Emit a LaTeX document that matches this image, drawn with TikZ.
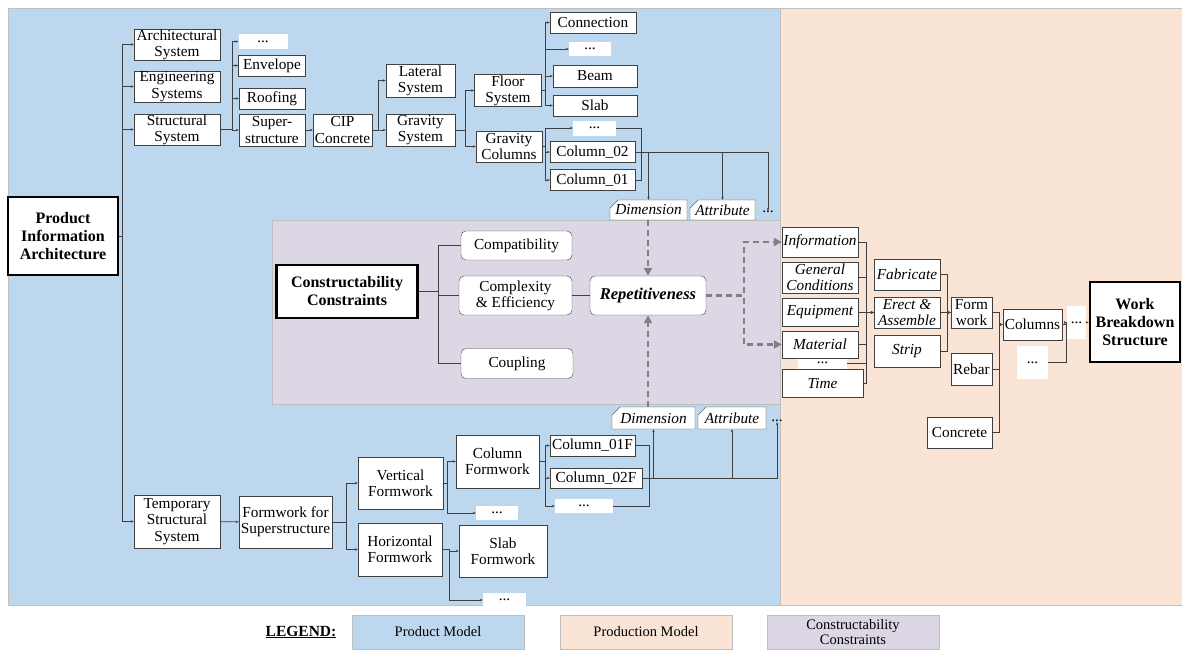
\documentclass[tikz,border=0pt]{standalone}
\usepackage{fontspec}
\setmainfont{Liberation Serif}
\usepackage{tikz}
\usetikzlibrary{arrows.meta,positioning,shapes.misc}
\definecolor{prodbg}{HTML}{BDD7EE}
\definecolor{planbg}{HTML}{FAE4D6}
\definecolor{consbg}{HTML}{DDD6E4}
\definecolor{frame}{HTML}{BFBFBF}
\definecolor{ink}{HTML}{404040}
\definecolor{dashgrey}{HTML}{808080}

\begin{document}
\begin{tikzpicture}[x=1pt,y=-1pt,
  font=\fontsize{15.3}{16.3}\selectfont,
  box/.style={draw=ink,fill=white,inner sep=0pt,align=center},
  dots/.style={fill=white,inner sep=0pt},
  heavy/.style={box,draw=black,line width=2.6pt,font=\fontsize{16}{18}\selectfont\bfseries},
  soft/.style={box,rounded corners=5pt},
  tag/.style={box,chamfered rectangle,chamfered rectangle corners=north west,
              chamfered rectangle xsep=5pt,font=\fontsize{15.3}{16.3}\selectfont\itshape},
  it/.style={font=\fontsize{15.3}{16.3}\selectfont\itshape},
  conn/.style={draw=ink,line width=0.9pt,-{Stealth[length=3pt,width=2.4pt]}},
  link/.style={draw=ink,line width=0.9pt},
  flow/.style={draw=dashgrey,line width=2.2pt,dash pattern=on 6pt off 4pt,
               -{Triangle[length=8pt,width=8pt]}},
  legbox/.style={draw=frame,inner sep=0pt,align=center,minimum width=172,minimum height=34,
                 font=\fontsize{14.5}{15}\selectfont}
]
\useasboundingbox (0,0) rectangle (1182,649);
% backgrounds
\fill[white] (0,0) rectangle (1182,649);
\filldraw[fill=prodbg,draw=frame] (8,8) rectangle (780,605);
\filldraw[fill=planbg,draw=frame] (780,8) rectangle (1182,605);
\filldraw[fill=consbg,draw=frame] (272,220) rectangle (780,404);

% product model
\node[heavy,minimum width=110,minimum height=78] (pia) at (63,236) {Product\\Information\\Architecture};
\node[box,minimum width=86,minimum height=31] (arch) at (177,44.5) {Architectural\\System};
\node[box,minimum width=86,minimum height=31] (eng) at (177,86.5) {Engineering\\Systems};
\node[box,minimum width=86,minimum height=31] (struc) at (177,129.5) {Structural\\System};
\node[box,minimum width=86,minimum height=53] (temp) at (177,521.5) {Temporary\\Structural\\System};

\node[dots,minimum width=49,minimum height=15] (d1) at (263,41.5) {...};
\node[box,minimum width=67,minimum height=21] (env) at (272,65.5) {Envelope};
\node[box,minimum width=66,minimum height=21] (roof) at (272,98.5) {Roofing};
\node[box,minimum width=66,minimum height=32] (sup) at (272,130) {Super-\\structure};
\node[box,minimum width=59,minimum height=32] (cip) at (342.5,130) {CIP\\Concrete};
\node[box,minimum width=69,minimum height=33] (lat) at (420.5,80.5) {Lateral\\System};
\node[box,minimum width=69,minimum height=32] (grav) at (420.5,130) {Gravity\\System};
\node[box,minimum width=67,minimum height=32] (floor) at (508,90.5) {Floor\\System};
\node[box,minimum width=66,minimum height=31] (gcol) at (509,146.5) {Gravity\\Columns};
\node[box,minimum width=86,minimum height=21] (cnx) at (593,22.5) {Connection};
\node[dots,minimum width=42,minimum height=14] (d2) at (590,49) {...};
\node[box,minimum width=84,minimum height=22] (beam) at (595,76) {Beam};
\node[box,minimum width=84,minimum height=21] (slab) at (595,105.5) {Slab};
\node[dots,minimum width=43,minimum height=15] (d3) at (594.5,128) {...};
\node[box,minimum width=85,minimum height=21] (col2) at (592.5,152) {Column\_02};
\node[box,minimum width=85,minimum height=21] (col1) at (592.5,180) {Column\_01};
\node[tag,minimum width=77,minimum height=20] (dimA) at (648.5,210) {Dimension};
\node[tag,minimum width=65,minimum height=20] (attrA) at (722.5,210) {Attribute};
\node[inner sep=0pt] (dotsA) at (768,212) {...};

\node[box,minimum width=93,minimum height=52] (fws) at (285.5,522) {Formwork for\\Superstructure};
\node[box,minimum width=85,minimum height=52] (vert) at (400.5,483) {Vertical\\Formwork};
\node[box,minimum width=84,minimum height=53] (horz) at (400,549.5) {Horizontal\\Formwork};
\node[box,minimum width=83,minimum height=53] (colf) at (497.5,461.5) {Column\\Formwork};
\node[dots,minimum width=42,minimum height=14] (d7) at (497,513) {...};
\node[box,minimum width=88,minimum height=52] (slabf) at (503,551) {Slab\\Formwork};
\node[dots,minimum width=43,minimum height=14] (d8) at (504.5,600) {...};
\node[box,minimum width=85,minimum height=21] (c1f) at (592.5,445.5) {Column\_01F};
\node[box,minimum width=92,minimum height=20] (c2f) at (596,478) {Column\_02F};
\node[dots,minimum width=58,minimum height=14] (d9) at (584,506) {...};
\node[tag,minimum width=83,minimum height=22] (dimB) at (653.5,418) {Dimension};
\node[tag,minimum width=68,minimum height=22] (attrB) at (732,418) {Attribute};
\node[inner sep=0pt] (dotsB) at (777,421) {...};

% constructability constraints
\node[heavy,minimum width=141,minimum height=53] (cc) at (347,291.5) {Constructability\\Constraints};
\node[soft,minimum width=111,minimum height=29] (compat) at (516.5,245.5) {Compatibility};
\node[soft,minimum width=113,minimum height=39] (cplx) at (515.5,295.5) {Complexity\\\& Efficiency};
\node[soft,minimum width=112,minimum height=30] (coup) at (517,363.5) {Coupling};
\node[soft,minimum width=116,minimum height=39,font=\fontsize{16.5}{17}\selectfont\bfseries\itshape] (rep) at (648,295.5) {Repetitiveness};

% production model
\node[dots,minimum width=49,minimum height=14] (d4) at (822.5,363) {...};
\node[box,it,minimum width=76,minimum height=30] (info) at (820,242) {Information};
\node[box,it,minimum width=76,minimum height=31] (gen) at (820,277.5) {General\\Conditions};
\node[box,it,minimum width=76,minimum height=28] (equip) at (820,312) {Equipment};
\node[box,it,minimum width=76,minimum height=27] (mat) at (820,344.5) {Material};
\node[box,it,minimum width=81,minimum height=28] (time) at (822.5,383) {Time};
\node[box,it,minimum width=66,minimum height=31] (fab) at (907,274.5) {Fabricate};
\node[box,it,minimum width=66,minimum height=31] (erect) at (907,312.5) {Erect \&\\Assemble};
\node[box,it,minimum width=66,minimum height=32] (strip) at (907,351) {Strip};
\node[box,minimum width=41,minimum height=31] (form) at (971.5,312.5) {Form\\work};
\node[box,minimum width=41,minimum height=32] (rebar) at (971.5,369) {Rebar};
\node[box,minimum width=65,minimum height=31] (concr) at (959.5,432.5) {Concrete};
\node[box,minimum width=59,minimum height=31] (cols) at (1032.5,324.5) {Columns};
\node[dots,minimum width=31,minimum height=33] (d5) at (1032.5,362.5) {...};
\node[dots,minimum width=19,minimum height=33] (d6) at (1076.5,322.5) {...};
\node[heavy,minimum width=90,minimum height=80] (wbs) at (1135,322) {Work\\Breakdown\\Structure};

% legend
\node[font=\fontsize{15.5}{16}\selectfont\bfseries] (leg) at (301,632) {\underline{LEGEND:}};
\node[legbox,fill=prodbg] (legP) at (438,632) {Product Model};
\node[legbox,fill=planbg] (legQ) at (646,632) {Production Model};
\node[legbox,fill=consbg] (legC) at (853,632) {Constructability\\Constraints};

% bar positions
\coordinate (b0) at (122,0);
\coordinate (b1) at (232,0);
\coordinate (b2) at (378,0);
\coordinate (b3) at (465,0);
\coordinate (b4) at (545,0);
\coordinate (b5) at (641,0);
\coordinate (b6) at (438,0);
\coordinate (b7) at (744,0);
\coordinate (b8) at (866,0);
\coordinate (b9) at (947,0);
\coordinate (b10) at (999,0);
\coordinate (b11) at (1066,0);
\coordinate (b12) at (346,0);
\coordinate (b13) at (447,0);
\coordinate (b14) at (449,0);
\coordinate (b15) at (649,0);

% product tree
\draw[link] (pia.east) -- (pia.east -| b0);
\draw[link] (b0 |- arch.west) -- (b0 |- temp.west);
\foreach \n in {arch,eng,struc,temp}
  \draw[conn] (b0 |- \n.west) -- (\n.west);
\foreach \n in {d1,env,roof,sup}
  \draw[conn] (struc.east) -| (b1 |- \n.west) -- (\n.west);
\draw[conn] (sup) -- (cip);
\foreach \n in {lat,grav}
  \draw[conn] (cip.east) -| (b2 |- \n.west) -- (\n.west);
\foreach \n in {floor,gcol}
  \draw[conn] (grav.east) -| (b3 |- \n.west) -- (\n.west);
\foreach \n in {cnx,d2,beam,slab}
  \draw[conn] (floor.east) -| (b4 |- \n.west) -- (\n.west);
\foreach \n in {d3,col2,col1}
  \draw[conn] (gcol.east) -| (b4 |- \n.west) -- (\n.west);
\draw[link] (d3.east) -| (b5 |- col1.east) -- (col1.east);
\draw[link] (col2.east) -- (col2.east -| b5);
\draw[conn] (col2.east) -| (dimA.north);
\draw[conn] (col2.east) -| (attrA.north);
\draw[conn] (col2.east) -| (dotsA.north);

% temporary structure tree
\draw[conn] (temp) -- (fws);
\foreach \n in {vert,horz}
  \draw[conn] (fws.east) -| (b12 |- \n.west) -- (\n.west);
\foreach \n in {colf,d7}
  \draw[conn] (vert.east) -| (b13 |- \n.west) -- (\n.west);
\foreach \n in {slabf,d8}
  \draw[conn] (horz.east) -| (b14 |- \n.west) -- (\n.west);
\foreach \n in {c1f,c2f,d9}
  \draw[conn] (colf.east) -| (b4 |- \n.west) -- (\n.west);
\draw[link] (c1f.east) -| (b15 |- d9.east) -- (d9.east);
\draw[conn] (c2f.east) -| (dimB.south);
\draw[conn] (c2f.east) -| (attrB.south);
\draw[conn] (c2f.east) -| (dotsB.south);

% constraints
\foreach \n in {compat,cplx,coup}
  \draw[link] (cc.east) -| (b6 |- \n.west) -- (\n.west);
\draw[link] (cplx) -- (rep);
\draw[flow] (dimA.south -| rep.north) -- (rep.north);
\draw[flow] (rep.south |- dimB.north) -- (rep.south);
\draw[flow] (rep.east) -| (b7 |- info.west) -- (info.west);
\draw[flow] (rep.east) -| (b7 |- mat.west) -- (mat.west);

% production tree
\foreach \n in {info,gen,equip,mat,d4,time}
  \draw[conn] (\n.east) -| (b8 |- erect.west) -- (erect.west);
\foreach \n in {fab,erect,strip}
  \draw[conn] (\n.east) -| (b9 |- form.west) -- (form.west);
\foreach \n in {form,rebar,concr}
  \draw[conn] (\n.east) -| (b10 |- cols.west) -- (cols.west);
\foreach \n in {cols,d5}
  \draw[conn] (\n.east) -| (b11 |- d6.west) -- (d6.west);
\draw[conn] (d6) -- (wbs);
\end{tikzpicture}
\end{document}
